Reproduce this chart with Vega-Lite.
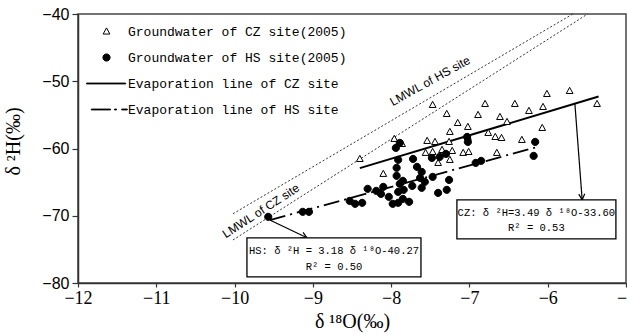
{
  "$schema": "https://vega.github.io/schema/vega-lite/v6.json",
  "width": 548,
  "height": 269,
  "autosize": {"type": "none"},
  "padding": {"left": 78, "top": 14, "right": 1, "bottom": 51},
  "background": "white",
  "config": {
    "view": {"stroke": "#444", "strokeWidth": 1.5},
    "axis": {"grid": false, "domainColor": "#333", "domainWidth": 1.5, "tickColor": "#333", "tickWidth": 1.2, "labelColor": "black", "titleColor": "black", "titleFontWeight": "normal"},
    "legend": {"title": null, "orient": "none", "legendX": 20, "legendY": 9, "padding": 0, "labelFont": "Liberation Mono", "labelFontSize": 13, "labelColor": "black", "symbolSize": 256, "symbolStrokeColor": "black", "symbolStrokeWidth": 1, "rowPadding": 10, "labelOffset": 13, "labelLimit": 400}
  },
  "datasets": {
    "lmwl": [
      {"name": "HS", "d18O": -10.02, "d2H": -69.7},
      {"name": "HS", "d18O": -5.68, "d2H": -40},
      {"name": "CZ", "d18O": -10.02, "d2H": -73.6},
      {"name": "CZ", "d18O": -5.49, "d2H": -40}
    ],
    "evapCZ": [
      {"d18O": -8.4, "d2H": -62.92},
      {"d18O": -5.35, "d2H": -52.27}
    ],
    "evapHS": [
      {"d18O": -9.55, "d2H": -70.64},
      {"d18O": -6.12, "d2H": -59.73}
    ],
    "points": [
      {"series": "Groundwater of CZ site(2005)", "d18O": -8.40, "d2H": -61.55},
      {"series": "Groundwater of CZ site(2005)", "d18O": -8.10, "d2H": -63.77},
      {"series": "Groundwater of CZ site(2005)", "d18O": -7.96, "d2H": -58.57},
      {"series": "Groundwater of CZ site(2005)", "d18O": -7.86, "d2H": -59.32},
      {"series": "Groundwater of CZ site(2005)", "d18O": -7.47, "d2H": -53.52},
      {"series": "Groundwater of CZ site(2005)", "d18O": -7.29, "d2H": -54.86},
      {"series": "Groundwater of CZ site(2005)", "d18O": -7.15, "d2H": -56.20},
      {"series": "Groundwater of CZ site(2005)", "d18O": -7.25, "d2H": -57.53},
      {"series": "Groundwater of CZ site(2005)", "d18O": -7.02, "d2H": -56.79},
      {"series": "Groundwater of CZ site(2005)", "d18O": -7.02, "d2H": -58.28},
      {"series": "Groundwater of CZ site(2005)", "d18O": -6.89, "d2H": -55.01},
      {"series": "Groundwater of CZ site(2005)", "d18O": -6.80, "d2H": -53.37},
      {"series": "Groundwater of CZ site(2005)", "d18O": -6.42, "d2H": -53.37},
      {"series": "Groundwater of CZ site(2005)", "d18O": -6.61, "d2H": -55.31},
      {"series": "Groundwater of CZ site(2005)", "d18O": -6.52, "d2H": -56.05},
      {"series": "Groundwater of CZ site(2005)", "d18O": -6.76, "d2H": -57.68},
      {"series": "Groundwater of CZ site(2005)", "d18O": -6.67, "d2H": -58.28},
      {"series": "Groundwater of CZ site(2005)", "d18O": -6.59, "d2H": -58.43},
      {"series": "Groundwater of CZ site(2005)", "d18O": -6.33, "d2H": -58.72},
      {"series": "Groundwater of CZ site(2005)", "d18O": -6.24, "d2H": -54.41},
      {"series": "Groundwater of CZ site(2005)", "d18O": -6.06, "d2H": -53.82},
      {"series": "Groundwater of CZ site(2005)", "d18O": -6.01, "d2H": -51.89},
      {"series": "Groundwater of CZ site(2005)", "d18O": -5.72, "d2H": -51.44},
      {"series": "Groundwater of CZ site(2005)", "d18O": -5.37, "d2H": -53.37},
      {"series": "Groundwater of CZ site(2005)", "d18O": -6.07, "d2H": -56.94},
      {"series": "Groundwater of CZ site(2005)", "d18O": -7.54, "d2H": -58.87},
      {"series": "Groundwater of CZ site(2005)", "d18O": -7.44, "d2H": -59.02},
      {"series": "Groundwater of CZ site(2005)", "d18O": -7.26, "d2H": -59.02},
      {"series": "Groundwater of CZ site(2005)", "d18O": -7.56, "d2H": -60.65},
      {"series": "Groundwater of CZ site(2005)", "d18O": -7.47, "d2H": -60.51},
      {"series": "Groundwater of CZ site(2005)", "d18O": -7.35, "d2H": -60.21},
      {"series": "Groundwater of CZ site(2005)", "d18O": -7.22, "d2H": -60.36},
      {"series": "Groundwater of CZ site(2005)", "d18O": -7.08, "d2H": -60.65},
      {"series": "Groundwater of CZ site(2005)", "d18O": -7.01, "d2H": -60.51},
      {"series": "Groundwater of CZ site(2005)", "d18O": -7.40, "d2H": -62.14},
      {"series": "Groundwater of CZ site(2005)", "d18O": -7.25, "d2H": -61.69},
      {"series": "Groundwater of CZ site(2005)", "d18O": -6.65, "d2H": -60.65},
      {"series": "Groundwater of HS site(2005)", "d18O": -9.57, "d2H": -70.16},
      {"series": "Groundwater of HS site(2005)", "d18O": -9.13, "d2H": -69.42},
      {"series": "Groundwater of HS site(2005)", "d18O": -9.05, "d2H": -69.42},
      {"series": "Groundwater of HS site(2005)", "d18O": -8.53, "d2H": -67.79},
      {"series": "Groundwater of HS site(2005)", "d18O": -8.46, "d2H": -68.23},
      {"series": "Groundwater of HS site(2005)", "d18O": -8.37, "d2H": -68.08},
      {"series": "Groundwater of HS site(2005)", "d18O": -8.30, "d2H": -66.00},
      {"series": "Groundwater of HS site(2005)", "d18O": -8.19, "d2H": -66.30},
      {"series": "Groundwater of HS site(2005)", "d18O": -8.13, "d2H": -66.75},
      {"series": "Groundwater of HS site(2005)", "d18O": -8.10, "d2H": -65.71},
      {"series": "Groundwater of HS site(2005)", "d18O": -8.03, "d2H": -67.19},
      {"series": "Groundwater of HS site(2005)", "d18O": -7.98, "d2H": -68.23},
      {"series": "Groundwater of HS site(2005)", "d18O": -7.91, "d2H": -68.08},
      {"series": "Groundwater of HS site(2005)", "d18O": -7.85, "d2H": -67.49},
      {"series": "Groundwater of HS site(2005)", "d18O": -7.77, "d2H": -67.93},
      {"series": "Groundwater of HS site(2005)", "d18O": -7.91, "d2H": -66.45},
      {"series": "Groundwater of HS site(2005)", "d18O": -7.89, "d2H": -65.26},
      {"series": "Groundwater of HS site(2005)", "d18O": -7.93, "d2H": -64.07},
      {"series": "Groundwater of HS site(2005)", "d18O": -7.93, "d2H": -62.88},
      {"series": "Groundwater of HS site(2005)", "d18O": -7.91, "d2H": -61.69},
      {"series": "Groundwater of HS site(2005)", "d18O": -7.94, "d2H": -59.91},
      {"series": "Groundwater of HS site(2005)", "d18O": -7.89, "d2H": -59.17},
      {"series": "Groundwater of HS site(2005)", "d18O": -7.72, "d2H": -61.55},
      {"series": "Groundwater of HS site(2005)", "d18O": -7.67, "d2H": -62.73},
      {"series": "Groundwater of HS site(2005)", "d18O": -7.61, "d2H": -63.48},
      {"series": "Groundwater of HS site(2005)", "d18O": -7.63, "d2H": -64.37},
      {"series": "Groundwater of HS site(2005)", "d18O": -7.57, "d2H": -64.96},
      {"series": "Groundwater of HS site(2005)", "d18O": -7.47, "d2H": -64.22},
      {"series": "Groundwater of HS site(2005)", "d18O": -7.40, "d2H": -66.60},
      {"series": "Groundwater of HS site(2005)", "d18O": -7.29, "d2H": -66.15},
      {"series": "Groundwater of HS site(2005)", "d18O": -7.26, "d2H": -64.67},
      {"series": "Groundwater of HS site(2005)", "d18O": -7.73, "d2H": -65.56},
      {"series": "Groundwater of HS site(2005)", "d18O": -7.85, "d2H": -64.81},
      {"series": "Groundwater of HS site(2005)", "d18O": -7.61, "d2H": -65.85},
      {"series": "Groundwater of HS site(2005)", "d18O": -7.48, "d2H": -61.40},
      {"series": "Groundwater of HS site(2005)", "d18O": -7.38, "d2H": -61.25},
      {"series": "Groundwater of HS site(2005)", "d18O": -7.30, "d2H": -60.80},
      {"series": "Groundwater of HS site(2005)", "d18O": -7.03, "d2H": -58.28},
      {"series": "Groundwater of HS site(2005)", "d18O": -7.02, "d2H": -59.02},
      {"series": "Groundwater of HS site(2005)", "d18O": -6.92, "d2H": -62.14},
      {"series": "Groundwater of HS site(2005)", "d18O": -6.85, "d2H": -61.84},
      {"series": "Groundwater of HS site(2005)", "d18O": -6.16, "d2H": -59.02},
      {"series": "Groundwater of HS site(2005)", "d18O": -6.18, "d2H": -61.10},
      {"series": "Groundwater of HS site(2005)", "d18O": -7.84, "d2H": -66.15}
    ],
    "boxes": [
      {"d18O": -9.842, "d18O_2": -7.619, "d2H": -73.28, "d2H_2": -79.08},
      {"d18O": -7.160, "d18O_2": -5.129, "d2H": -67.64, "d2H_2": -73.43}
    ],
    "boxText": [
      {"d18O": -8.73, "d2H": -75.22, "label": "HS: δ ²H = 3.18 δ ¹⁸O-40.27"},
      {"d18O": -8.73, "d2H": -77.59, "label": "R² = 0.50"},
      {"d18O": -6.145, "d2H": -69.57, "label": "CZ: δ ²H=3.49 δ ¹⁸O-33.60"},
      {"d18O": -6.145, "d2H": -71.80, "label": "R² = 0.53"}
    ],
    "arrows": [
      {"d18O": -9.55, "d2H": -70.64, "d18O_2": -9.075, "d2H_2": -73.28},
      {"d18O": -5.653, "d2H": -53.33, "d18O_2": -5.56, "d2H_2": -67.64}
    ]
  },
  "layer": [
    {
      "data": {"name": "lmwl"},
      "mark": {"type": "line", "color": "#333", "strokeWidth": 1, "strokeDash": [2, 2]},
      "encoding": {
        "x": {"field": "d18O", "type": "quantitative", "scale": {"domain": [-12, -5], "nice": false, "zero": false},
          "axis": {"values": [-12, -11, -10, -9, -8, -7, -6, -5], "format": "d", "title": "δ ¹⁸O(‰)", "labelFont": "Liberation Serif", "labelFontSize": 18, "labelFlush": false, "labelOverlap": false, "titleFont": "Liberation Serif", "titleFontSize": 20, "tickSize": 4, "labelPadding": 2, "titlePadding": 4}},
        "y": {"field": "d2H", "type": "quantitative", "scale": {"domain": [-80, -40], "nice": false, "zero": false},
          "axis": {"values": [-80, -70, -60, -50, -40], "format": "d", "title": "δ ²H(‰)", "labelFont": "Liberation Sans", "labelFontSize": 16, "titleFont": "Liberation Serif", "titleFontSize": 20, "tickSize": 6, "labelPadding": 3, "titleX": -55, "titleY": 127}},
        "detail": {"field": "name"}
      }
    },
    {
      "data": {"name": "evapCZ"},
      "mark": {"type": "line", "color": "black", "strokeWidth": 2},
      "encoding": {
        "x": {"field": "d18O", "type": "quantitative", "scale": {"domain": [-12, -5], "nice": false, "zero": false}},
        "y": {"field": "d2H", "type": "quantitative", "scale": {"domain": [-80, -40], "nice": false, "zero": false}}
      }
    },
    {
      "data": {"name": "evapHS"},
      "mark": {"type": "line", "color": "black", "strokeWidth": 1.8, "strokeDash": [16, 5, 2, 5]},
      "encoding": {
        "x": {"field": "d18O", "type": "quantitative", "scale": {"domain": [-12, -5], "nice": false, "zero": false}},
        "y": {"field": "d2H", "type": "quantitative", "scale": {"domain": [-80, -40], "nice": false, "zero": false}}
      }
    },
    {
      "data": {"name": "points"},
      "mark": {"type": "point", "strokeWidth": 1, "size": 256, "opacity": 1, "fillOpacity": 1},
      "encoding": {
        "x": {"field": "d18O", "type": "quantitative", "scale": {"domain": [-12, -5], "nice": false, "zero": false}},
        "y": {"field": "d2H", "type": "quantitative", "scale": {"domain": [-80, -40], "nice": false, "zero": false}},
        "shape": {"field": "series", "type": "nominal",
          "scale": {"domain": ["Groundwater of CZ site(2005)", "Groundwater of HS site(2005)", "Evaporation line of CZ site", "Evaporation line of HS site"],
            "range": ["M0,-0.45L0.42,0.32L-0.42,0.32Z", "M0.45,0A0.45,0.45,0,1,1,-0.45,0A0.45,0.45,0,1,1,0.45,0Z", "M-2.5,-0.05H2.4V0.05H-2.5Z", "M-1.9,-0.05H0.5V0.05H-1.9ZM1.0,-0.05H1.25V0.05H1.0ZM1.9,-0.05H2.6V0.05H1.9Z"]}},
        "fill": {"field": "series", "type": "nominal",
          "scale": {"domain": ["Groundwater of CZ site(2005)", "Groundwater of HS site(2005)", "Evaporation line of CZ site", "Evaporation line of HS site"],
            "range": ["white", "black", "black", "black"]}},
        "stroke": {"field": "series", "type": "nominal",
          "scale": {"domain": ["Groundwater of CZ site(2005)", "Groundwater of HS site(2005)", "Evaporation line of CZ site", "Evaporation line of HS site"],
            "range": ["black", "black", "black", "black"]}}
      }
    },
    {
      "data": {"name": "lmwl"},
      "transform": [{"filter": "datum.name == 'HS' && datum.d2H < -41"}],
      "mark": {"type": "text", "text": "LMWL of HS site", "font": "Liberation Sans", "fontSize": 12, "angle": 331, "align": "center", "baseline": "middle", "color": "black"},
      "encoding": {
        "x": {"datum": -7.505, "type": "quantitative", "scale": {"domain": [-12, -5], "nice": false, "zero": false}},
        "y": {"datum": -49.96, "type": "quantitative", "scale": {"domain": [-80, -40], "nice": false, "zero": false}}
      }
    },
    {
      "data": {"name": "lmwl"},
      "transform": [{"filter": "datum.name == 'CZ' && datum.d2H < -41"}],
      "mark": {"type": "text", "text": "LMWL of CZ site", "font": "Liberation Sans", "fontSize": 12, "angle": 327, "align": "center", "baseline": "middle", "color": "black"},
      "encoding": {
        "x": {"datum": -9.663, "type": "quantitative", "scale": {"domain": [-12, -5], "nice": false, "zero": false}},
        "y": {"datum": -69.27, "type": "quantitative", "scale": {"domain": [-80, -40], "nice": false, "zero": false}}
      }
    },
    {
      "data": {"name": "arrows"},
      "mark": {"type": "rule", "color": "black", "strokeWidth": 1.2},
      "encoding": {
        "x": {"field": "d18O", "type": "quantitative", "scale": {"domain": [-12, -5], "nice": false, "zero": false}},
        "y": {"field": "d2H", "type": "quantitative", "scale": {"domain": [-80, -40], "nice": false, "zero": false}},
        "x2": {"field": "d18O_2"},
        "y2": {"field": "d2H_2"}
      }
    },
    {
      "data": {"name": "arrows"},
      "transform": [{"filter": "datum.d18O < -9"}],
      "mark": {"type": "point", "shape": "M-0.5,-1L0,0L0.5,-1", "size": 144, "angle": 298, "stroke": "black", "strokeWidth": 1.2, "filled": false, "opacity": 1},
      "encoding": {
        "x": {"field": "d18O_2", "type": "quantitative", "scale": {"domain": [-12, -5], "nice": false, "zero": false}},
        "y": {"field": "d2H_2", "type": "quantitative", "scale": {"domain": [-80, -40], "nice": false, "zero": false}}
      }
    },
    {
      "data": {"name": "arrows"},
      "transform": [{"filter": "datum.d18O > -9"}],
      "mark": {"type": "point", "shape": "M-0.5,-1L0,0L0.5,-1", "size": 144, "angle": 356, "stroke": "black", "strokeWidth": 1.2, "filled": false, "opacity": 1},
      "encoding": {
        "x": {"field": "d18O_2", "type": "quantitative", "scale": {"domain": [-12, -5], "nice": false, "zero": false}},
        "y": {"field": "d2H_2", "type": "quantitative", "scale": {"domain": [-80, -40], "nice": false, "zero": false}}
      }
    },
    {
      "data": {"name": "boxes"},
      "mark": {"type": "rect", "fill": "white", "stroke": "black", "strokeWidth": 1.3},
      "encoding": {
        "x": {"field": "d18O", "type": "quantitative", "scale": {"domain": [-12, -5], "nice": false, "zero": false}},
        "y": {"field": "d2H", "type": "quantitative", "scale": {"domain": [-80, -40], "nice": false, "zero": false}},
        "x2": {"field": "d18O_2"},
        "y2": {"field": "d2H_2"}
      }
    },
    {
      "data": {"name": "boxText"},
      "mark": {"type": "text", "font": "Liberation Mono", "fontSize": 10.5, "align": "center", "baseline": "middle", "color": "black"},
      "encoding": {
        "x": {"field": "d18O", "type": "quantitative", "scale": {"domain": [-12, -5], "nice": false, "zero": false}},
        "y": {"field": "d2H", "type": "quantitative", "scale": {"domain": [-80, -40], "nice": false, "zero": false}},
        "text": {"field": "label"}
      }
    }
  ]
}
